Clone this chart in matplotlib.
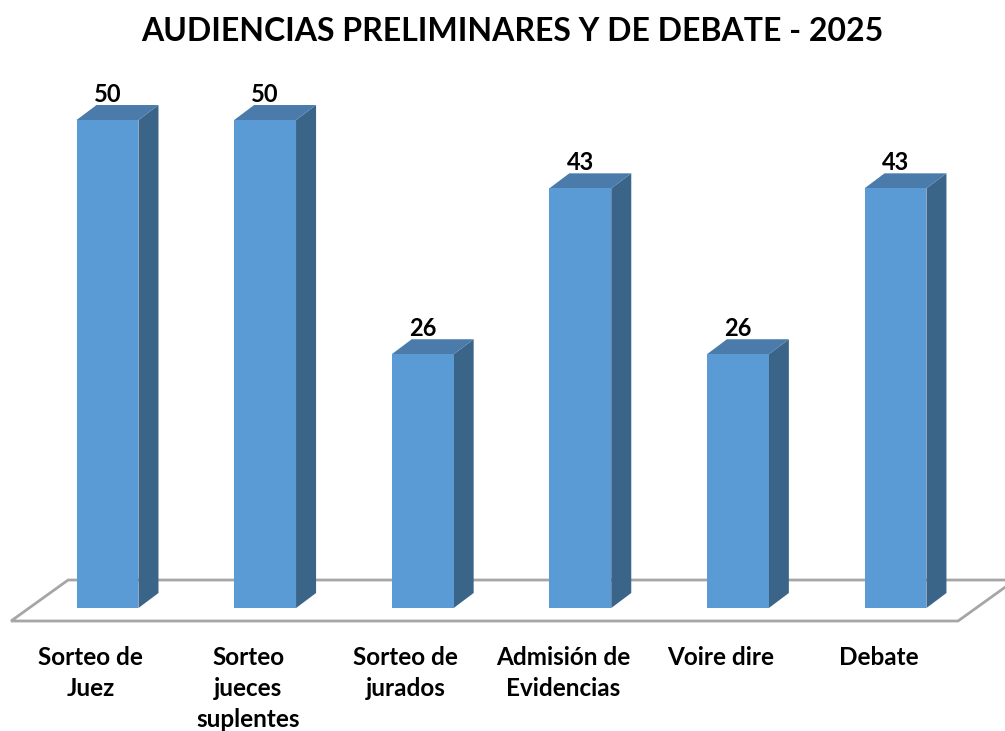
import numpy as np
import matplotlib.pyplot as plt
from matplotlib.patches import Polygon

# data
categories = ["Sorteo de\nJuez", "Sorteo\njueces\nsuplentes", "Sorteo de\njurados",
              "Admisión de\nEvidencias", "Voire dire", "Debate"]
values = [50, 50, 26, 43, 26, 43]
title = "AUDIENCIAS PRELIMINARES Y DE DEBATE - 2025"

front_col = "#5B9BD5"
side_col = "#3B6489"
top_col = "#4A7BAA"
floor_col = "#A6A6A6"

plt.rcParams['font.family'] = ['Lato', 'DejaVu Sans']

fig = plt.figure(figsize=(10.05, 7.31), dpi=100)
ax = fig.add_axes([0, 0, 1, 1])
ax.set_xlim(-0.682, 5.695)
ax.set_ylim(-12.6, 62.3)
ax.axis('off')

x = np.arange(len(values))
w = 0.393      # bar width
dx = 0.127     # depth offset in x
dy = 1.54      # depth offset in y

# floor (parallelogram)
f_front, f_back = -1.33, 2.87
f_left, f_right, f_skew = -0.612, len(values) - 1 + 0.397, 0.362
floor = Polygon([(f_left, f_front), (f_right, f_front),
                 (f_right + f_skew, f_back), (f_left + f_skew, f_back)],
                closed=True, facecolor='white', edgecolor=floor_col, lw=2, zorder=1)
ax.add_patch(floor)

# front faces
ax.bar(x, values, width=w, color=front_col, zorder=3, linewidth=0)

for xi, v in zip(x, values):
    r = xi + w / 2
    l = xi - w / 2
    side = Polygon([(r, 0), (r + dx, dy), (r + dx, v + dy), (r, v)],
                   closed=True, facecolor=side_col, edgecolor='none', zorder=2)
    top = Polygon([(l, v), (r, v), (r + dx, v + dy), (l + dx, v + dy)],
                  closed=True, facecolor=top_col, edgecolor='none', zorder=2)
    ax.add_patch(side)
    ax.add_patch(top)
    ax.text(xi, v + dy - 0.05, str(v), ha='center', va='bottom',
            fontsize=17, fontweight='bold', color='black', zorder=4)

for xi, lab in zip(x, categories):
    ax.text(xi - 0.108, -3.9, lab, ha='center', va='top', fontsize=17.5,
            fontweight='bold', linespacing=1.42)

ax.text(0.51, 0.957, title, transform=ax.transAxes, ha='center', va='center',
        fontsize=23, fontweight='bold')

fig.savefig("out.png", dpi=100)
